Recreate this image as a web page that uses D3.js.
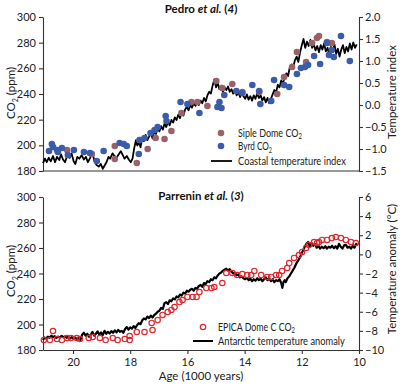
<!DOCTYPE html>
<html>
<head>
<meta charset="utf-8">
<script src="https://cdn.jsdelivr.net/npm/d3@7"></script>
<style>
  body { margin: 0; background: #fff; }
  svg { display: block; font-family: Lato, 'Open Sans', sans-serif; }
  .axis path, .axis line { stroke: #333; stroke-width: 1.1; }
  .axis text { font-size: 11px; fill: #222; font-family: Lato, sans-serif; }
  .lbl { font-size: 11.5px; fill: #222; }
  .leg { font-size: 10.5px; fill: #222; }
  .ttl { font-size: 11.5px; font-weight: bold; fill: #111; }
</style>
</head>
<body>
<script>
// ---- data (age in kyr BP) ----
const coastalTemp = [
  [21.05,-1.32],[20.98,-1.22],[20.92,-1.30],[20.85,-1.20],[20.78,-1.28],[20.70,-1.16],[20.63,-1.30],[20.56,-1.18],
  [20.48,-1.25],[20.42,-1.12],[20.35,-1.24],[20.28,-1.30],[20.20,-1.14],[20.12,-1.20],[20.05,-1.10],[19.98,-1.28],
  [19.92,-1.34],[19.85,-1.18],[19.78,-1.22],[19.70,-1.14],[19.62,-1.24],[19.55,-1.18],[19.48,-1.30],[19.40,-1.20],
  [19.33,-1.06],[19.25,-1.28],[19.18,-1.36],[19.10,-1.40],[19.03,-1.34],[18.96,-1.45],[18.90,-1.38],[18.83,-1.30],
  [18.76,-1.18],[18.70,-1.22],[18.62,-1.10],[18.55,-1.16],[18.48,-1.20],[18.40,-1.12],[18.33,-1.05],[18.26,-1.14],
  [18.20,-1.22],[18.12,-1.16],[18.05,-1.24],[17.98,-1.30],[17.92,-1.22],[17.86,-0.98],[17.80,-0.80],[17.75,-0.92],
  [17.70,-0.84],[17.64,-0.96],[17.58,-0.74],[17.52,-0.82],[17.46,-0.68],[17.40,-0.80],[17.34,-0.72],[17.28,-0.62],
  [17.22,-0.76],[17.16,-0.60],[17.10,-0.66],[17.04,-0.52],[16.98,-0.60],[16.92,-0.48],[16.86,-0.56],[16.80,-0.42],
  [16.74,-0.50],[16.68,-0.38],[16.62,-0.46],[16.56,-0.34],[16.50,-0.40],[16.44,-0.28],[16.38,-0.34],[16.32,-0.22],
  [16.26,-0.30],[16.20,-0.16],[16.14,-0.24],[16.08,-0.10],[16.02,-0.04],[15.96,-0.12],[15.90,0.00],[15.84,-0.06],
  [15.78,0.04],[15.72,-0.02],[15.66,0.06],[15.60,0.00],[15.54,0.10],[15.48,0.04],[15.42,0.16],[15.36,0.08],
  [15.30,0.22],[15.24,0.30],[15.18,0.26],[15.12,0.44],[15.06,0.58],[15.00,0.40],[14.94,0.50],[14.88,0.36],
  [14.82,0.44],[14.76,0.30],[14.70,0.40],[14.64,0.34],[14.58,0.42],[14.52,0.30],[14.46,0.36],[14.40,0.26],
  [14.34,0.34],[14.28,0.22],[14.22,0.30],[14.16,0.18],[14.10,0.28],[14.04,0.20],[13.98,0.14],[13.92,0.24],
  [13.86,0.12],[13.80,0.20],[13.74,0.10],[13.68,0.22],[13.62,0.14],[13.56,0.26],[13.50,0.16],[13.44,0.22],
  [13.38,0.10],[13.32,0.18],[13.26,0.06],[13.20,0.16],[13.14,0.04],[13.08,0.14],[13.02,0.24],[12.96,0.34],
  [12.90,0.28],[12.84,0.46],[12.78,0.40],[12.72,0.56],[12.66,0.48],[12.60,0.64],[12.54,0.72],[12.48,0.66],
  [12.42,0.86],[12.36,0.92],[12.30,0.86],[12.24,1.02],[12.18,1.10],[12.12,0.98],[12.06,1.20],[12.00,1.36],
  [11.94,1.50],[11.88,1.30],[11.82,1.44],[11.76,1.34],[11.70,1.48],[11.64,1.30],[11.58,1.38],[11.52,1.24],
  [11.46,1.34],[11.40,1.20],[11.34,1.36],[11.28,1.26],[11.22,1.40],[11.16,1.22],[11.10,1.30],[11.04,1.14],
  [10.98,1.32],[10.92,1.20],[10.86,1.38],[10.80,1.16],[10.74,1.28],[10.68,1.10],[10.62,1.26],[10.56,1.36],
  [10.50,1.18],[10.44,1.32],[10.38,1.22],[10.32,1.40],[10.26,1.26],[10.20,1.42],[10.14,1.30],[10.08,1.38]
]

const sipleCO2 = [
  [20.21,196.4],[19.34,193.2],[18.54,199.5],[18.54,189.4],[17.77,186.2],[17.67,204.2],[17.39,197.1],[17.11,205.7],
  [16.80,204.9],[16.56,211.2],[16.21,225.2],[15.86,233.8],[15.65,233.8],[15.30,230.6],[14.99,250.1],[14.78,244.7],
  [14.43,247.8],[14.08,241.6],[13.49,241.6],[12.86,240.0],[12.62,253.2],[12.34,261.0],[12.17,272.7],[11.85,264.9],
  [11.64,279.7],[11.47,283.6],[11.40,285.2],[11.12,280.5],[10.95,279.7]
]

const byrdCO2 = [
  [20.84,195.6],[20.74,201.0],[20.70,198.7],[20.56,196.4],[20.53,194.8],[20.39,197.9],[20.18,192.5],[19.97,196.4],
  [19.62,194.8],[19.41,194.0],[19.17,187.8],[18.93,195.6],[18.37,201.8],[18.23,201.0],[18.12,199.5],[17.70,193.2],
  [17.67,204.2],[17.50,205.7],[17.29,209.6],[17.15,212.0],[17.04,214.3],[16.76,222.9],[16.73,219.0],[16.24,233.8],
  [16.00,232.2],[15.58,225.2],[14.95,229.9],[14.88,233.8],[14.81,229.1],[14.71,239.2],[14.29,242.3],[14.08,240.8],
  [13.73,247.0],[13.49,242.3],[13.45,232.2],[13.07,234.5],[12.97,250.9],[12.62,247.0],[12.44,245.5],[12.17,255.6],
  [12.03,260.3],[11.89,261.0],[11.78,262.6],[11.57,269.6],[11.36,263.4],[11.12,279.7],[11.05,270.4],[10.95,274.3],
  [10.88,268.8],[10.63,285.2],[10.32,265.7]
]

const antarcticTemp = [
  [21.05,-8.95],[21.00,-8.70],[20.94,-8.80],[20.88,-8.60],[20.82,-8.72],[20.76,-8.50],[20.70,-8.66],[20.64,-8.55],
  [20.58,-8.74],[20.52,-8.60],[20.46,-8.70],[20.40,-8.52],[20.34,-8.66],[20.28,-8.58],[20.22,-8.72],[20.16,-8.62],
  [20.10,-8.78],[20.04,-8.66],[19.98,-8.84],[19.92,-8.70],[19.86,-8.90],[19.80,-8.76],[19.74,-8.94],[19.68,-8.40],
  [19.62,-8.20],[19.56,-8.50],[19.50,-8.30],[19.44,-8.62],[19.38,-8.40],[19.32,-8.10],[19.26,-8.50],[19.20,-8.30],
  [19.14,-8.06],[19.08,-8.40],[19.02,-8.16],[18.96,-8.44],[18.90,-8.00],[18.84,-8.30],[18.78,-8.10],[18.72,-8.28],
  [18.66,-8.02],[18.60,-8.20],[18.54,-7.94],[18.48,-8.16],[18.42,-7.90],[18.36,-8.10],[18.30,-8.00],[18.24,-8.20],
  [18.18,-7.80],[18.12,-7.60],[18.06,-7.86],[18.00,-7.64],[17.94,-7.76],[17.88,-7.50],[17.82,-7.70],[17.76,-7.40],
  [17.70,-7.20],[17.64,-7.30],[17.58,-6.90],[17.52,-6.70],[17.46,-6.80],[17.40,-6.50],[17.34,-6.66],[17.28,-6.40],
  [17.22,-6.60],[17.16,-6.36],[17.10,-6.20],[17.04,-6.00],[16.98,-5.90],[16.92,-5.60],[16.86,-5.70],[16.80,-5.10],
  [16.74,-5.00],[16.68,-5.20],[16.62,-4.80],[16.56,-4.90],[16.50,-4.60],[16.44,-4.70],[16.38,-4.40],[16.32,-4.50],
  [16.26,-4.20],[16.20,-4.30],[16.14,-4.00],[16.08,-4.10],[16.02,-3.80],[15.96,-3.90],[15.90,-3.70],[15.84,-3.60],
  [15.78,-3.80],[15.72,-3.50],[15.66,-3.60],[15.60,-3.30],[15.54,-3.20],[15.48,-3.40],[15.42,-3.00],[15.36,-3.10],
  [15.30,-2.80],[15.24,-2.90],[15.18,-2.60],[15.12,-2.70],[15.06,-2.40],[15.00,-2.50],[14.94,-2.20],[14.88,-2.00],
  [14.82,-1.90],[14.76,-1.70],[14.70,-1.60],[14.64,-1.50],[14.58,-1.70],[14.52,-1.55],[14.46,-1.80],[14.40,-2.00],
  [14.34,-1.90],[14.28,-2.20],[14.22,-2.10],[14.16,-2.40],[14.10,-2.30],[14.04,-2.50],[13.98,-2.60],[13.92,-2.45],
  [13.86,-2.70],[13.80,-2.55],[13.74,-2.80],[13.68,-2.60],[13.62,-2.75],[13.56,-2.50],[13.50,-2.70],[13.44,-2.55],
  [13.38,-2.80],[13.32,-2.60],[13.26,-2.40],[13.20,-2.70],[13.14,-2.50],[13.08,-2.80],[13.02,-2.60],[12.96,-2.90],
  [12.90,-2.70],[12.84,-2.80],[12.78,-2.60],[12.72,-3.00],[12.68,-3.50],[12.64,-2.90],[12.60,-2.70],[12.56,-2.90],
  [12.50,-2.50],[12.44,-2.30],[12.38,-2.00],[12.32,-1.70],[12.26,-1.40],[12.20,-1.00],[12.14,-0.70],[12.08,-0.40],
  [12.02,0.00],[11.96,0.40],[11.90,0.80],[11.84,1.10],[11.78,1.30],[11.72,0.80],[11.66,1.20],[11.60,0.90],
  [11.54,1.10],[11.48,0.70],[11.42,0.90],[11.36,0.60],[11.30,0.80],[11.24,0.65],[11.18,0.85],[11.12,0.60],
  [11.06,0.80],[11.00,0.70],[10.94,0.90],[10.88,0.65],[10.82,0.85],[10.76,0.60],[10.70,1.10],[10.64,0.80],
  [10.58,0.60],[10.52,0.95],[10.46,1.00],[10.40,0.70],[10.34,0.80],[10.28,0.60],[10.22,0.90],[10.16,0.70],
  [10.10,1.10],[10.05,1.00]
]

const epicaCO2 = [
  [21.02,187.8],[20.81,187.8],[20.70,194.9],[20.56,188.6],[20.39,187.8],[20.21,189.4],[20.07,189.4],[19.87,189.4],
  [19.76,188.6],[19.45,189.4],[19.31,190.2],[19.06,189.4],[18.86,187.8],[18.61,189.4],[18.44,187.8],[18.19,188.6],
  [18.02,191.0],[18.02,187.8],[17.77,194.1],[17.50,194.1],[17.25,201.2],[17.22,195.7],[17.04,203.5],[16.87,207.5],
  [16.69,209.8],[16.56,211.4],[16.45,213.7],[16.28,217.6],[16.17,219.2],[16.00,221.6],[15.82,221.6],[15.68,221.6],
  [15.58,225.5],[15.34,228.6],[15.16,228.6],[15.06,229.4],[14.78,232.5],[14.64,240.4],[14.43,240.4],[14.26,238.8],
  [14.08,239.6],[13.91,238.8],[13.77,238.8],[13.66,242.0],[13.42,238.8],[13.21,237.3],[13.07,237.3],[12.90,238.8],
  [12.79,238.8],[12.69,242.0],[12.51,244.3],[12.44,248.2],[12.27,252.2],[12.10,254.5],[11.99,256.9],[11.85,260.0],
  [11.75,262.4],[11.57,264.7],[11.47,263.9],[11.40,264.7],[11.29,266.3],[11.12,266.3],[10.95,267.8],[10.81,268.6],
  [10.63,267.8],[10.46,266.3],[10.28,264.7],[10.11,263.9]
]

const co2Ticks = [180, 200, 220, 240, 260, 280, 300]
const tempIndexTicks = [-1.5, -1.0, -0.5, 0.0, 0.5, 1.0, 1.5, 2.0]
const tempAnomTicks = [-10, -8, -6, -4, -2, 0, 2, 4, 6]
const ageTicks = [20, 18, 16, 14, 12, 10]

const colSiple = '#9a6168'
const colByrd = '#3b5cab'
const colEpica = '#e2262b'

;(function () {
  const W = 402, H = 386
  const left = 43, right = 359
  const svg = d3.select('body').append('svg').attr('width', W).attr('height', H)
  const fmtMinus = s => String(s).replace('-', '\u2212')

  const x = d3.scaleLinear().domain([21.05, 10]).range([left, right])

  function panel (top, bottom, tempDomain, tempTicks, tempFmt) {
    const yCO2 = d3.scaleLinear().domain([180, 300]).range([bottom, top])
    const yT = d3.scaleLinear().domain(tempDomain).range([bottom, top])
    svg.append('g').attr('class', 'axis')
      .attr('transform', 'translate(' + left + ',0)')
      .call(d3.axisLeft(yCO2).tickValues(co2Ticks).tickSize(4).tickSizeOuter(0).tickPadding(3))
    svg.append('g').attr('class', 'axis')
      .attr('transform', 'translate(' + right + ',0)')
      .call(d3.axisRight(yT).tickValues(tempTicks).tickSize(4).tickSizeOuter(0).tickPadding(2)
        .tickFormat(d => fmtMinus(tempFmt(d))))
    return { yCO2, yT }
  }

  // ---------- top panel ----------
  const p1 = panel(17, 171, [-1.5, 2.0], tempIndexTicks, d3.format('.1f'))
  svg.append('line').attr('x1', left).attr('x2', right).attr('y1', 171).attr('y2', 171)
    .attr('stroke', '#333').attr('stroke-width', 1.1)

  const line1 = d3.line().x(d => x(d[0])).y(d => p1.yT(d[1]))
  svg.append('path').attr('d', line1(coastalTemp))
    .attr('fill', 'none').attr('stroke', '#000').attr('stroke-width', 1.8).attr('stroke-linejoin', 'round')

  svg.append('g').selectAll('circle').data(sipleCO2).enter().append('circle')
    .attr('cx', d => x(d[0])).attr('cy', d => p1.yCO2(d[1])).attr('r', 3.3)
    .attr('fill', colSiple)
  svg.append('g').selectAll('circle').data(byrdCO2).enter().append('circle')
    .attr('cx', d => x(d[0])).attr('cy', d => p1.yCO2(d[1])).attr('r', 3.3)
    .attr('fill', colByrd)

  // ---------- bottom panel ----------
  const p2 = panel(197, 350, [-10, 6], tempAnomTicks, d3.format('d'))
  svg.append('g').attr('class', 'axis')
    .attr('transform', 'translate(0,350)')
    .call(d3.axisBottom(x).tickValues(ageTicks).tickSize(4).tickSizeOuter(0).tickPadding(4))

  const line2 = d3.line().x(d => x(d[0])).y(d => p2.yT(d[1]))
  svg.append('path').attr('d', line2(antarcticTemp))
    .attr('fill', 'none').attr('stroke', '#000').attr('stroke-width', 2.2).attr('stroke-linejoin', 'round')

  svg.append('g').selectAll('circle').data(epicaCO2).enter().append('circle')
    .attr('cx', d => x(d[0])).attr('cy', d => p2.yCO2(d[1])).attr('r', 2.7)
    .attr('fill', 'none').attr('stroke', colEpica).attr('stroke-width', 1.2)

  // ---------- text ----------
  function co2Text (sel, rest) {
    sel.append('tspan').text('CO')
    sel.append('tspan').attr('font-size', '7px').attr('dy', 2.5).text('2')
    if (rest) sel.append('tspan').attr('dy', -2.5).text(rest)
  }

  function title (cx, y, name, ref) {
    const t = svg.append('text').attr('class', 'ttl').attr('x', cx).attr('y', y).attr('text-anchor', 'middle')
    t.append('tspan').text(name + ' ')
    t.append('tspan').attr('font-style', 'italic').text('et al.')
    t.append('tspan').text(' (')
    t.append('tspan').attr('font-style', 'italic').text(ref)
    t.append('tspan').text(')')
  }
  title(201, 13, 'Pedro', '4')
  title(201, 200, 'Parrenin', '3')

  const yl1 = svg.append('text').attr('class', 'lbl').attr('text-anchor', 'middle')
    .attr('transform', 'translate(15,93) rotate(-90)')
  co2Text(yl1, ' (ppm)')
  const yl2 = svg.append('text').attr('class', 'lbl').attr('text-anchor', 'middle')
    .attr('transform', 'translate(15,271) rotate(-90)')
  co2Text(yl2, ' (ppm)')

  svg.append('text').attr('class', 'lbl').attr('text-anchor', 'middle')
    .attr('transform', 'translate(396,92) rotate(-90)').text('Temperature index')
  svg.append('text').attr('class', 'lbl').attr('text-anchor', 'middle')
    .attr('transform', 'translate(396,269) rotate(-90)').text('Temperature anomaly (\u00B0C)')

  svg.append('text').attr('class', 'lbl').attr('text-anchor', 'middle')
    .attr('x', 201).attr('y', 380).text('Age (1000 years)')

  // legends: the original face is narrow, so squeeze horizontally to its width
  function legText (lx, ly, width, label, withCO2) {
    const t = svg.append('text').attr('class', 'leg')
    t.append('tspan').text(label)
    if (withCO2) co2Text(t, '')
    const natural = t.node().getComputedTextLength()
    t.attr('transform', 'translate(' + lx + ',' + ly + ') scale(' + (width / natural) + ',1)')
    return t
  }
  svg.append('circle').attr('cx', 221).attr('cy', 133).attr('r', 3.3).attr('fill', colSiple)
  legText(238, 136.5, 64, 'Siple Dome ', true)
  svg.append('circle').attr('cx', 221).attr('cy', 146).attr('r', 3.3).attr('fill', colByrd)
  legText(238, 150, 34, 'Byrd ', true)
  svg.append('line').attr('x1', 211).attr('x2', 232).attr('y1', 161).attr('y2', 161)
    .attr('stroke', '#000').attr('stroke-width', 1.8)
  legText(238, 164.5, 108, 'Coastal temperature index', false)

  svg.append('circle').attr('cx', 203).attr('cy', 327).attr('r', 2.7)
    .attr('fill', 'none').attr('stroke', colEpica).attr('stroke-width', 1.2)
  legText(218, 330.5, 77, 'EPICA Dome C ', true)
  svg.append('line').attr('x1', 193).attr('x2', 213).attr('y1', 341).attr('y2', 341)
    .attr('stroke', '#000').attr('stroke-width', 2)
  legText(218, 344.5, 127, 'Antarctic temperature anomaly', false)
})()
</script>
</body>
</html>
